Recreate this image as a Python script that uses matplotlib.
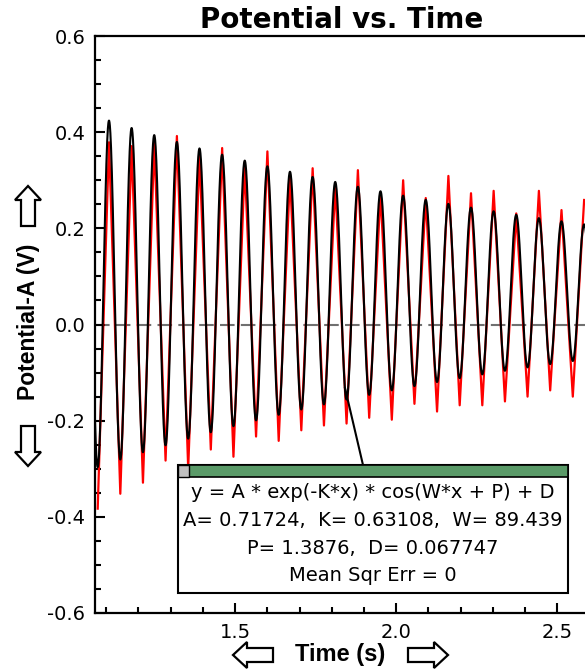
import numpy as np
import matplotlib.pyplot as plt
from matplotlib.patches import Rectangle, Polygon
from matplotlib.lines import Line2D

plt.rcParams['font.family'] = ['Liberation Sans', 'DejaVu Sans']

# Parámetros del ajuste mostrados en la caja
A = 0.71724
K = 0.63108
W = 89.439
P = 1.3876
D = 0.067747

# Datos leídos (rojo): tiempos y valores de picos y valles
t_valles = [1.0734, 1.1436, 1.2139, 1.2841, 1.3544, 1.4246, 1.4949, 1.5651,
            1.6354, 1.7056, 1.7759, 1.8461, 1.9164, 1.9866, 2.0569, 2.1271,
            2.1974, 2.2676, 2.3379, 2.4081, 2.4784, 2.5486]
v_valles = [-0.383, -0.352, -0.329, -0.283, -0.300, -0.260, -0.275, -0.233,
            -0.242, -0.220, -0.210, -0.206, -0.194, -0.198, -0.165, -0.181,
            -0.168, -0.168, -0.160, -0.150, -0.137, -0.150]
t_picos = [1.1085, 1.1788, 1.2490, 1.3193, 1.3895, 1.4598, 1.5300, 1.6003,
           1.6705, 1.7408, 1.8110, 1.8813, 1.9515, 2.0218, 2.0920, 2.1623,
           2.2325, 2.3028, 2.3730, 2.4433, 2.5135, 2.5838]
v_picos = [0.379, 0.371, 0.379, 0.392, 0.352, 0.367, 0.331, 0.360,
           0.310, 0.325, 0.290, 0.321, 0.273, 0.300, 0.263, 0.309,
           0.273, 0.278, 0.231, 0.278, 0.238, 0.259]

x_ticks = [1.5, 2.0, 2.5]
y_ticks = [-0.6, -0.4, -0.2, 0.0, 0.2, 0.4, 0.6]

W_px, H_px = 585, 670
fig = plt.figure(figsize=(W_px / 100, H_px / 100), dpi=100)

def fx(px):
    return px / W_px

def fy(py):
    return 1 - py / H_px

def flecha(cx, cy, ang):
    # flecha hueca, apuntando a la izquierda y luego girada
    pts = np.array([[-20, 0], [-6, -13], [-6, -7], [20, -7],
                    [20, 7], [-6, 7], [-6, 13]], dtype=float)
    c, s = np.cos(np.radians(ang)), np.sin(np.radians(ang))
    rot = pts @ np.array([[c, -s], [s, c]]).T
    xy = [(fx(cx + p[0]), fy(cy + p[1])) for p in rot]
    fig.add_artist(Polygon(xy, closed=True, facecolor='white',
                           edgecolor='black', lw=1.6))

ax = fig.add_axes([fx(95), fy(613), fx(590) - fx(95), fy(36) - fy(613)])

# Serie roja: picos y valles alternados
t_rojo = []
v_rojo = []
for tv, vv, tp, vp in zip(t_valles, v_valles, t_picos, v_picos):
    t_rojo += [tv, tp]
    v_rojo += [vv, vp]
ax.plot(t_rojo, v_rojo, color='red', lw=1.6, zorder=2)

# Curva del ajuste
t = np.linspace(1.06, 2.61, 3000)
y = A * np.exp(-K * t) * np.cos(W * t + P) + D
ax.plot(t, y, color='black', lw=1.5, zorder=3)

ax.axhline(0.0, color='#707070', lw=1.5, ls=(0, (7, 3)), zorder=1)

ax.set_xlim(1.065, 2.602)
ax.set_ylim(-0.6, 0.6)
ax.set_xticks(x_ticks)
ax.set_xticklabels(['1.5', '2.0', '2.5'])
ax.set_xticks(np.arange(1.1, 2.6, 0.1), minor=True)
ax.set_yticks(y_ticks)
ax.set_yticklabels(['%.1f' % v for v in y_ticks])
ax.set_yticks(np.arange(-0.55, 0.6, 0.05), minor=True)
ax.tick_params(direction='in', which='major', length=7, width=1.5,
               labelsize=14, pad=7)
ax.tick_params(direction='in', which='minor', length=4, width=1.5)
for lab in ax.get_xticklabels() + ax.get_yticklabels():
    lab.set_family('DejaVu Sans')
for s in ['left', 'bottom', 'top']:
    ax.spines[s].set_linewidth(1.6)
ax.spines['right'].set_visible(False)

# Título y etiquetas
fig.text(fx(342), fy(20), 'Potential vs. Time', ha='center', va='center',
         fontsize=20, fontweight='bold', family='DejaVu Sans')
fig.text(fx(340), fy(655), 'Time (s)', ha='center', va='center',
         fontsize=17, fontweight='bold')
flecha(253, 655, 0)
flecha(428, 655, 180)
fig.text(fx(28), fy(322), 'Potential-A (V)', ha='center', va='center',
         fontsize=16.5, fontweight='bold', rotation=90)
flecha(28, 206, 90)
flecha(28, 446, -90)

# Línea de la caja al gráfico
fig.add_artist(Line2D([fx(363), fx(345)], [fy(465), fy(388)], color='black',
                      lw=1.5))

# Caja del ajuste
fig.add_artist(Rectangle((fx(178), fy(593)), fx(568) - fx(178),
                         fy(465) - fy(593), facecolor='white',
                         edgecolor='black', lw=1.5, zorder=5))
fig.add_artist(Rectangle((fx(178), fy(477)), fx(568) - fx(178),
                         fy(465) - fy(477), facecolor='#5a9a68',
                         edgecolor='black', lw=1.2, zorder=6))
fig.add_artist(Rectangle((fx(178), fy(477)), fx(189) - fx(178),
                         fy(465) - fy(477), facecolor='#c0c0c0',
                         edgecolor='black', lw=1.0, zorder=7))
lineas = ['y = A * exp(-K*x) * cos(W*x + P) + D',
          'A= 0.71724,  K= 0.63108,  W= 89.439',
          'P= 1.3876,  D= 0.067747',
          'Mean Sqr Err = 0']
for i, txt in enumerate(lineas):
    fig.text(fx(373), fy(493 + 27.5 * i), txt, ha='center', va='center',
             fontsize=14, family='DejaVu Sans', zorder=8)

fig.savefig('out.png', dpi=100)
